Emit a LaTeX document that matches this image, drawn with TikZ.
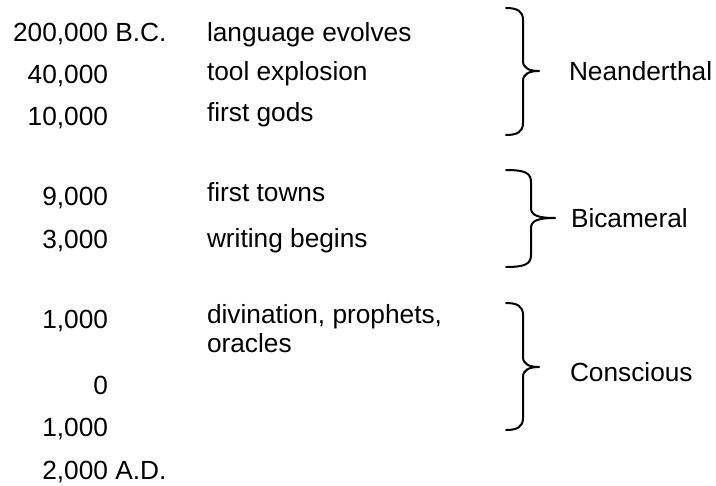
\documentclass[tikz,border=0pt]{standalone}
\usepackage{fontspec}
\setmainfont{Liberation Sans}
\begin{document}
\begin{tikzpicture}[x=0.75pt,y=-0.75pt,
  txt/.style={inner sep=0pt,outer sep=0pt,font=\fontsize{19.7}{21.75}\selectfont},
  date/.style={txt,anchor=base east},
  event/.style={txt,anchor=base west,align=left},
  era/.style={txt,anchor=base west},
  brace/.style={line width=1.5pt,line cap=round,line join=round}]
\useasboundingbox (0,0) rectangle (716,485);
% dates
\node[date] (d1) at (108,41) {200,000\rlap{ B.C.}};
\node[date] (d2) at (108,83) {40,000};
\node[date] (d3) at (108,125) {10,000};
\node[date] (d4) at (108,205) {9,000};
\node[date] (d5) at (108,248) {3,000};
\node[date] (d6) at (108,328) {1,000};
\node[date] (d7) at (108,394) {0};
\node[date] (d8) at (108,436) {1,000};
\node[date] (d9) at (108,479) {2,000\rlap{ A.D.}};
% events
\node[event] (e1) at (207,41) {language evolves};
\node[event] (e2) at (207,80) {tool explosion};
\node[event] (e3) at (207,121) {first gods};
\node[event] (e4) at (207,201) {first towns};
\node[event] (e5) at (207,247) {writing begins};
\node[event] (e6) at (207,352) {divination, prophets,\\oracles};
% eras
\node[era] (n) at (569,80) {Neanderthal};
\node[era] (b) at (571,227) {Bicameral};
\node[era] (c) at (570,381) {Conscious};
% braces: left x, spine x, tip x, top, middle, bottom
\foreach \l/\s/\p/\t/\m/\b in {506/523/539/8/71/135, 506/531/555/170/218/267, 506/523/539/303/367/430}{
  \draw[brace] (\l,\t) .. controls (\s-6,\t) and (\s,\t+3) .. (\s,\t+12)
    -- (\s,\m-10) .. controls (\s,\m-3) and (\s+6,\m) .. (\p,\m)
    .. controls (\s+6,\m) and (\s,\m+3) .. (\s,\m+10)
    -- (\s,\b-12) .. controls (\s,\b-3) and (\s-6,\b) .. (\l,\b);
}
\end{tikzpicture}
\end{document}
